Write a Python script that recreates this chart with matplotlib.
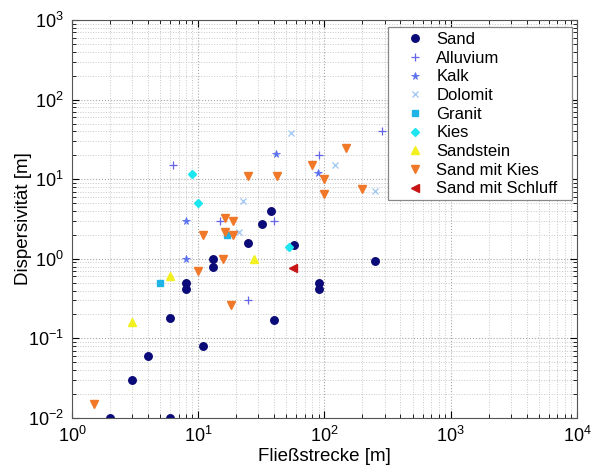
import matplotlib
matplotlib.use('Agg')
import matplotlib.pyplot as plt
from matplotlib.patches import Rectangle

plt.rcParams['font.family'] = ['Liberation Sans', 'DejaVu Sans']

# Data (Fliesstrecke [m], Dispersivitaet [m])
sand_x = [2, 6, 3, 4, 6, 11, 8, 8, 13, 13, 25, 38, 32, 57, 90, 90, 250, 40]
sand_y = [0.01, 0.01, 0.03, 0.06, 0.18, 0.08, 0.5, 0.42, 1.0, 0.8, 1.6, 4.0, 2.7, 1.5, 0.5, 0.42, 0.95, 0.17]

alluvium_x = [6.3, 15, 40, 25, 90, 285]
alluvium_y = [15, 3, 3, 0.3, 20, 40]

kalk_x = [8, 8, 41, 89]
kalk_y = [3, 1, 20.5, 12]

dolomit_x = [54, 121, 250, 22.7, 21]
dolomit_y = [38, 15, 7.2, 5.3, 2.2]

granit_x = [5, 17]
granit_y = [0.5, 2.0]

kies_x = [9, 10, 52.6]
kies_y = [11.5, 5, 1.4]

sandstein_x = [3, 6, 27.7]
sandstein_y = [0.16, 0.6, 1.0]

sandkies_x = [1.5, 10, 11, 15.6, 16.3, 19, 16.3, 19, 18.2, 25, 42, 80, 147, 100, 100, 200]
sandkies_y = [0.015, 0.7, 2.0, 1.0, 3.3, 3.0, 2.2, 2.0, 0.26, 11, 11, 15, 25, 10, 6.5, 7.5]

sandschluff_x = [56]
sandschluff_y = [0.76]

fig = plt.figure(figsize=(5.93, 4.76), dpi=100)
ax = fig.add_axes([0.1214, 0.1218, 0.8516, 0.8361])

ax.plot(sand_x, sand_y, 'o', color='#0a0a78', ms=5.4, label='Sand')
ax.plot(alluvium_x, alluvium_y, '+', color='#6464e6', ms=6, mew=0.9, label='Alluvium')
ax.plot(kalk_x, kalk_y, '*', color='#5a70ee', ms=5.5, mew=0.6, label='Kalk')
ax.plot(dolomit_x, dolomit_y, 'x', color='#9cc6f2', ms=5, mew=0.9, label='Dolomit')
ax.plot(granit_x, granit_y, 's', color='#1eb4e6', ms=5, label='Granit')
ax.plot(kies_x, kies_y, 'D', color='#1ee6f0', ms=4.5, label='Kies')
ax.plot(sandstein_x, sandstein_y, '^', color='#f2f01e', ms=6, label='Sandstein')
ax.plot(sandkies_x, sandkies_y, 'v', color='#f07828', ms=6, label='Sand mit Kies')
ax.plot(sandschluff_x, sandschluff_y, '<', color='#c81414', ms=6, label='Sand mit Schluff')

ax.set_xscale('log')
ax.set_yscale('log')
ax.set_xlim(1, 1e4)
ax.set_ylim(1e-2, 1e3)

ax.grid(True, which='major', ls=':', color='#a8a8a8', lw=0.8)
ax.grid(True, which='minor', ls=':', color='#c8c8c8', lw=0.7)
ax.set_axisbelow(True)
ax.tick_params(which='both', direction='in', top=True, right=True, labelsize=13, pad=6)
ax.tick_params(which='major', length=5)
ax.tick_params(which='minor', length=3)
for s in ax.spines.values():
    s.set_color('#555555')

ax.set_xlabel('Fließstrecke [m]', fontsize=13.5, labelpad=1)
ax.set_ylabel('Dispersivität [m]', fontsize=13.5, labelpad=-3)

# legend box drawn separately so its padding matches the original
box = Rectangle((0.6257, 0.5477), 0.3643, 0.4347, transform=ax.transAxes,
                facecolor='white', edgecolor='#888888', lw=0.9, zorder=4.5)
ax.add_patch(box)
leg = ax.legend(loc='upper left', fontsize=12, labelspacing=0.22, numpoints=1,
                handlelength=2.6, handletextpad=0.0, borderpad=0.3, borderaxespad=0,
                frameon=False, bbox_to_anchor=(0.6257, 0.9824))

fig.savefig('out.png', dpi=100)
